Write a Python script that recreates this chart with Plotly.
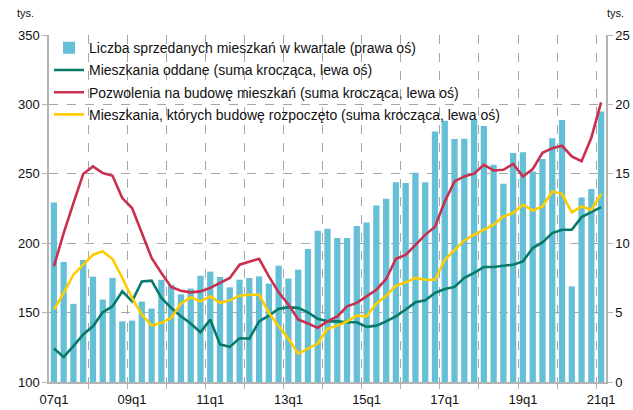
import plotly.graph_objects as go

# Quarter labels 07q1 .. 21q1
quarters = [f"{y:02d}q{q}" for y in range(7, 22) for q in range(1, 5)][:57]
tick_labels = ["07q1", "09q1", "11q1", "13q1", "15q1", "17q1", "19q1", "21q1"]

# Dwellings sold in the quarter (thousands, right axis)
sold = [12.93, 8.65, 5.63, 8.79, 7.59, 5.94, 7.50, 4.37, 4.42, 5.79,
        5.29, 7.36, 7.00, 6.32, 6.73, 7.66, 7.95, 7.57, 6.82, 7.37,
        7.49, 7.61, 7.09, 8.38, 7.45, 8.09, 9.58, 10.90, 11.04, 10.37,
        10.37, 11.24, 11.50, 12.72, 13.20, 14.40, 14.33, 15.07, 14.40, 18.04,
        18.82, 17.50, 17.52, 18.93, 18.45, 15.65, 14.28, 16.49, 16.56, 15.17,
        16.06, 17.57, 18.88, 6.89, 13.30, 13.90, 19.48]

# Rolling sums, thousands (left axis)
completed = [124.1, 118.1, 125.8, 134.2, 140.1, 150.2, 154.5, 165.3, 158.1, 172.5,
             173.0, 160.6, 153.4, 147.3, 142.1, 135.8, 145.0, 127.0, 125.3, 131.5,
             131.3, 143.7, 147.8, 152.7, 153.8, 153.4, 150.2, 145.5, 143.7, 143.7,
             143.0, 143.0, 139.7, 140.6, 143.7, 147.3, 152.2, 157.4, 158.8, 164.2,
             167.0, 168.5, 175.0, 178.6, 182.9, 182.9, 183.8, 184.5, 186.9, 196.5,
             200.6, 207.3, 209.7, 209.7, 218.8, 222.2, 226.0]

permits = [183.3, 207.3, 228.9, 249.8, 255.3, 250.5, 248.6, 232.5, 225.3, 207.3,
           189.4, 178.6, 168.5, 165.8, 164.6, 165.3, 167.8, 171.4, 175.0, 184.5,
           186.5, 188.8, 176.1, 164.6, 155.8, 145.0, 142.1, 139.0, 143.7, 147.3,
           154.5, 157.0, 161.7, 166.5, 174.2, 188.8, 191.5, 198.5, 206.0, 211.8,
           230.0, 244.5, 248.1, 250.1, 256.5, 252.4, 252.9, 257.1, 248.1, 253.4,
           265.1, 268.5, 270.2, 262.5, 259.1, 276.0, 301.5]

started = [152.2, 164.2, 177.3, 184.5, 191.7, 194.1, 188.6, 175.0, 160.6, 148.6,
           140.6, 142.6, 146.2, 156.5, 161.0, 158.1, 161.7, 157.0, 158.8, 162.2,
           162.9, 162.9, 149.8, 140.1, 131.1, 120.5, 123.9, 127.7, 138.3, 140.6,
           143.7, 147.8, 147.3, 156.5, 162.2, 169.4, 171.8, 175.0, 173.7, 173.7,
           188.1, 195.3, 202.0, 206.1, 209.7, 213.3, 219.3, 221.7, 227.7, 223.6,
           226.5, 237.3, 235.6, 222.2, 226.5, 224.1, 235.4]

x = list(range(len(quarters)))
tickvals = [quarters.index(t) for t in tick_labels]
year_bounds = [i - 0.5 for i, q in enumerate(quarters) if q.endswith("q1") and i > 0]

GRID = "#a6a6a6"
AXIS = "#b4b4b4"
FONT = "Liberation Sans, Arial, sans-serif"

fig = go.Figure()
fig.add_trace(go.Bar(x=x, y=sold, name="Liczba sprzedanych mieszkań w kwartale (prawa oś)",
                     marker=dict(color="#65bfd6", line=dict(width=0)), yaxis="y",
                     legendgroup="g1"))
fig.add_trace(go.Scatter(x=x, y=completed, mode="lines", yaxis="y2",
                         name="Mieszkania oddane (suma krocząca, lewa oś)",
                         line=dict(color="#087a68", width=2.6), legendgroup="g2"))
fig.add_trace(go.Scatter(x=x, y=permits, mode="lines", yaxis="y2",
                         name="Pozwolenia na budowę mieszkań (suma krocząca, lewa oś)",
                         line=dict(color="#c9304f", width=2.6), legendgroup="g3"))
fig.add_trace(go.Scatter(x=x, y=started, mode="lines", yaxis="y2",
                         name="Mieszkania, których budowę rozpoczęto (suma krocząca, lewa oś)",
                         line=dict(color="#ffcc00", width=2.6), legendgroup="g4"))

fig.update_layout(
    width=633, height=410,
    margin=dict(l=49, r=27, t=35, b=28),
    paper_bgcolor="white", plot_bgcolor="white",
    font=dict(family=FONT, size=13, color="#111111"),
    bargap=0.36,
    showlegend=True,
    legend=dict(x=0.0, y=1.008, xanchor="left", yanchor="top",
                bgcolor="rgba(0,0,0,0)", font=dict(size=14, color="#111111"),
                traceorder="grouped", tracegroupgap=1, itemwidth=30),
    xaxis=dict(range=[-0.5, len(quarters) - 0.5], tickmode="array",
               tickvals=tickvals, ticktext=tick_labels, ticks="", showgrid=False,
               showline=True, linecolor=AXIS, linewidth=1.5, zeroline=False,
               tickfont=dict(size=13), ticklabelstandoff=5, automargin=False,
               minor=dict(tickmode="array", tickvals=year_bounds, ticks="outside",
                          ticklen=5, tickcolor=AXIS, showgrid=True, gridcolor=GRID,
                          griddash="dash", gridwidth=1)),
    yaxis=dict(side="right", range=[0, 25], tickmode="linear", dtick=5,
               showgrid=True, gridcolor=GRID, griddash="dash", gridwidth=1,
               ticks="outside", ticklen=5, tickcolor=AXIS, showline=True,
               linecolor=AXIS, linewidth=1.5, zeroline=False, tickfont=dict(size=13),
               automargin=False),
    yaxis2=dict(side="left", overlaying="y", range=[100, 350], tickmode="linear",
                dtick=50, showgrid=False, ticks="outside", ticklen=5, tickcolor=AXIS,
                showline=True, linecolor=AXIS, linewidth=1.5, zeroline=False,
                tickfont=dict(size=13), automargin=False),
    annotations=[
        dict(text="tys.", xref="paper", yref="paper", x=0, y=1, xshift=-24, yshift=22,
             showarrow=False, font=dict(size=11), xanchor="center", yanchor="middle"),
        dict(text="tys.", xref="paper", yref="paper", x=1, y=1, xshift=9, yshift=22,
             showarrow=False, font=dict(size=11), xanchor="center", yanchor="middle"),
    ],
)

fig.write_html("out.html")
